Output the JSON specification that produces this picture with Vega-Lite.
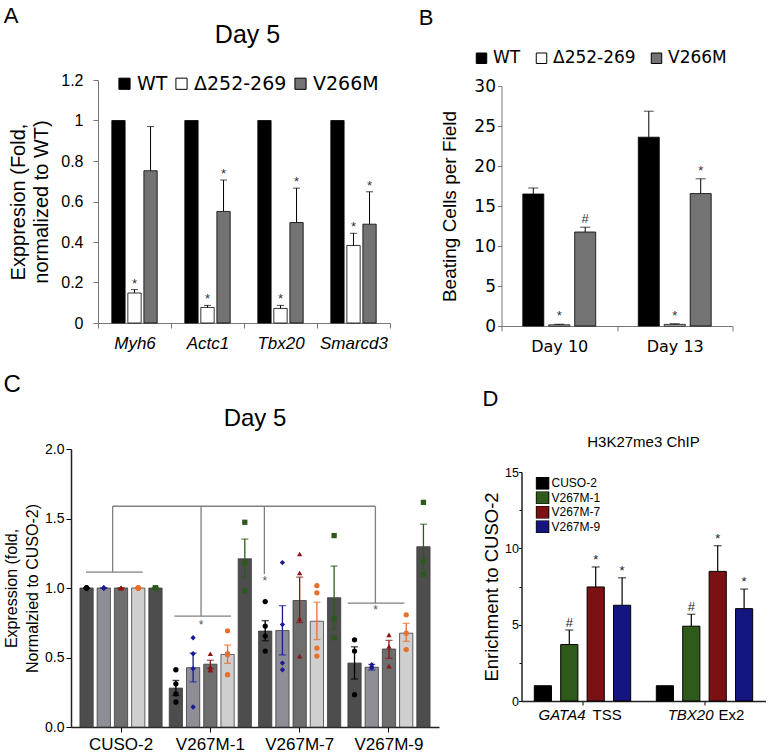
{
  "$schema": "https://vega.github.io/schema/vega-lite/v6.json",
  "background": "white",
  "padding": {"left": 3, "top": 5, "right": 0, "bottom": 0},
  "config": {
    "font": "Liberation Sans",
    "view": {"stroke": null},
    "axis": {"grid": false, "domainColor": "black", "tickColor": "black", "labelColor": "black", "titleColor": "black", "titleFontWeight": "normal", "labelFont": "Liberation Sans", "titleFont": "Liberation Sans"},
    "title": {"fontWeight": "normal", "color": "black", "font": "Liberation Sans"},
    "legend": {"labelColor": "black", "labelLimit": 300, "padding": 0}
  },
  "datasets": {
    "A": [
      {"gene": "Myh6", "group": "WT", "value": 1, "upper": null, "sig": ""},
      {"gene": "Myh6", "group": "Δ252-269", "value": 0.148, "upper": 0.165, "sig": "*"},
      {"gene": "Myh6", "group": "V266M", "value": 0.752, "upper": 0.97, "sig": ""},
      {"gene": "Actc1", "group": "WT", "value": 1, "upper": null, "sig": ""},
      {"gene": "Actc1", "group": "Δ252-269", "value": 0.077, "upper": 0.087, "sig": "*"},
      {"gene": "Actc1", "group": "V266M", "value": 0.551, "upper": 0.706, "sig": "*"},
      {"gene": "Tbx20", "group": "WT", "value": 1, "upper": null, "sig": ""},
      {"gene": "Tbx20", "group": "Δ252-269", "value": 0.072, "upper": 0.087, "sig": "*"},
      {"gene": "Tbx20", "group": "V266M", "value": 0.496, "upper": 0.666, "sig": "*"},
      {"gene": "Smarcd3", "group": "WT", "value": 1, "upper": null, "sig": ""},
      {"gene": "Smarcd3", "group": "Δ252-269", "value": 0.383, "upper": 0.443, "sig": "*"},
      {"gene": "Smarcd3", "group": "V266M", "value": 0.488, "upper": 0.648, "sig": "*"}
    ],
    "B": [
      {"day": "Day 10", "group": "WT", "value": 16.5, "upper": 17.25, "sig": ""},
      {"day": "Day 10", "group": "Δ252-269", "value": 0.15, "upper": 0.22, "sig": "*"},
      {"day": "Day 10", "group": "V266M", "value": 11.75, "upper": 12.35, "sig": "#"},
      {"day": "Day 13", "group": "WT", "value": 23.6, "upper": 26.85, "sig": ""},
      {"day": "Day 13", "group": "Δ252-269", "value": 0.2, "upper": 0.28, "sig": "*"},
      {"day": "Day 13", "group": "V266M", "value": 16.55, "upper": 18.4, "sig": "*"}
    ],
    "cBars": [
      {"clone": "CUSO-2", "gene": "GATA4", "mean": 1, "lo": 1, "hi": 1},
      {"clone": "CUSO-2", "gene": "TBX20", "mean": 1, "lo": 1, "hi": 1},
      {"clone": "CUSO-2", "gene": "HAND1", "mean": 1, "lo": 1, "hi": 1},
      {"clone": "CUSO-2", "gene": "ISL1", "mean": 1, "lo": 1, "hi": 1},
      {"clone": "CUSO-2", "gene": "MEF2C", "mean": 1, "lo": 1, "hi": 1},
      {"clone": "V267M-1", "gene": "GATA4", "mean": 0.28, "lo": 0.226, "hi": 0.335},
      {"clone": "V267M-1", "gene": "TBX20", "mean": 0.427, "lo": 0.325, "hi": 0.532},
      {"clone": "V267M-1", "gene": "HAND1", "mean": 0.452, "lo": 0.422, "hi": 0.48},
      {"clone": "V267M-1", "gene": "ISL1", "mean": 0.522, "lo": 0.458, "hi": 0.59},
      {"clone": "V267M-1", "gene": "MEF2C", "mean": 1.21, "lo": 1.075, "hi": 1.352},
      {"clone": "V267M-7", "gene": "GATA4", "mean": 0.69, "lo": 0.62, "hi": 0.765},
      {"clone": "V267M-7", "gene": "TBX20", "mean": 0.694, "lo": 0.519, "hi": 0.873},
      {"clone": "V267M-7", "gene": "HAND1", "mean": 0.91, "lo": 0.752, "hi": 1.078},
      {"clone": "V267M-7", "gene": "ISL1", "mean": 0.761, "lo": 0.629, "hi": 0.898},
      {"clone": "V267M-7", "gene": "MEF2C", "mean": 0.93, "lo": 0.706, "hi": 1.158},
      {"clone": "V267M-9", "gene": "GATA4", "mean": 0.46, "lo": 0.345, "hi": 0.577},
      {"clone": "V267M-9", "gene": "TBX20", "mean": 0.43, "lo": 0.41, "hi": 0.45},
      {"clone": "V267M-9", "gene": "HAND1", "mean": 0.561, "lo": 0.494, "hi": 0.623},
      {"clone": "V267M-9", "gene": "ISL1", "mean": 0.675, "lo": 0.616, "hi": 0.746},
      {"clone": "V267M-9", "gene": "MEF2C", "mean": 1.297, "lo": 1.136, "hi": 1.459}
    ],
    "cPoints": [
      {"clone": "CUSO-2", "gene": "GATA4", "value": 1}, {"clone": "CUSO-2", "gene": "GATA4", "value": 1}, {"clone": "CUSO-2", "gene": "GATA4", "value": 1}, {"clone": "CUSO-2", "gene": "GATA4", "value": 1},
      {"clone": "CUSO-2", "gene": "TBX20", "value": 1}, {"clone": "CUSO-2", "gene": "TBX20", "value": 1}, {"clone": "CUSO-2", "gene": "TBX20", "value": 1}, {"clone": "CUSO-2", "gene": "TBX20", "value": 1},
      {"clone": "CUSO-2", "gene": "HAND1", "value": 1}, {"clone": "CUSO-2", "gene": "HAND1", "value": 1}, {"clone": "CUSO-2", "gene": "HAND1", "value": 1}, {"clone": "CUSO-2", "gene": "HAND1", "value": 1},
      {"clone": "CUSO-2", "gene": "ISL1", "value": 1}, {"clone": "CUSO-2", "gene": "ISL1", "value": 1}, {"clone": "CUSO-2", "gene": "ISL1", "value": 1}, {"clone": "CUSO-2", "gene": "ISL1", "value": 1},
      {"clone": "CUSO-2", "gene": "MEF2C", "value": 1}, {"clone": "CUSO-2", "gene": "MEF2C", "value": 1}, {"clone": "CUSO-2", "gene": "MEF2C", "value": 1},
      {"clone": "V267M-1", "gene": "GATA4", "value": 0.412}, {"clone": "V267M-1", "gene": "GATA4", "value": 0.311}, {"clone": "V267M-1", "gene": "GATA4", "value": 0.239}, {"clone": "V267M-1", "gene": "GATA4", "value": 0.18},
      {"clone": "V267M-1", "gene": "TBX20", "value": 0.642}, {"clone": "V267M-1", "gene": "TBX20", "value": 0.527}, {"clone": "V267M-1", "gene": "TBX20", "value": 0.419}, {"clone": "V267M-1", "gene": "TBX20", "value": 0.144},
      {"clone": "V267M-1", "gene": "HAND1", "value": 0.527}, {"clone": "V267M-1", "gene": "HAND1", "value": 0.431}, {"clone": "V267M-1", "gene": "HAND1", "value": 0.41}, {"clone": "V267M-1", "gene": "HAND1", "value": 0.41},
      {"clone": "V267M-1", "gene": "ISL1", "value": 0.692}, {"clone": "V267M-1", "gene": "ISL1", "value": 0.527}, {"clone": "V267M-1", "gene": "ISL1", "value": 0.52}, {"clone": "V267M-1", "gene": "ISL1", "value": 0.376},
      {"clone": "V267M-1", "gene": "MEF2C", "value": 1.473}, {"clone": "V267M-1", "gene": "MEF2C", "value": 1.18}, {"clone": "V267M-1", "gene": "MEF2C", "value": 0.979},
      {"clone": "V267M-7", "gene": "GATA4", "value": 0.902}, {"clone": "V267M-7", "gene": "GATA4", "value": 0.726}, {"clone": "V267M-7", "gene": "GATA4", "value": 0.654}, {"clone": "V267M-7", "gene": "GATA4", "value": 0.546},
      {"clone": "V267M-7", "gene": "TBX20", "value": 1.183}, {"clone": "V267M-7", "gene": "TBX20", "value": 0.737}, {"clone": "V267M-7", "gene": "TBX20", "value": 0.46}, {"clone": "V267M-7", "gene": "TBX20", "value": 0.412},
      {"clone": "V267M-7", "gene": "HAND1", "value": 1.245}, {"clone": "V267M-7", "gene": "HAND1", "value": 1.108}, {"clone": "V267M-7", "gene": "HAND1", "value": 0.778}, {"clone": "V267M-7", "gene": "HAND1", "value": 0.51},
      {"clone": "V267M-7", "gene": "ISL1", "value": 1.017}, {"clone": "V267M-7", "gene": "ISL1", "value": 0.965}, {"clone": "V267M-7", "gene": "ISL1", "value": 0.568}, {"clone": "V267M-7", "gene": "ISL1", "value": 0.51},
      {"clone": "V267M-7", "gene": "MEF2C", "value": 1.377}, {"clone": "V267M-7", "gene": "MEF2C", "value": 0.778}, {"clone": "V267M-7", "gene": "MEF2C", "value": 0.641},
      {"clone": "V267M-9", "gene": "GATA4", "value": 0.627}, {"clone": "V267M-9", "gene": "GATA4", "value": 0.546}, {"clone": "V267M-9", "gene": "GATA4", "value": 0.232},
      {"clone": "V267M-9", "gene": "TBX20", "value": 0.448}, {"clone": "V267M-9", "gene": "TBX20", "value": 0.431}, {"clone": "V267M-9", "gene": "TBX20", "value": 0.425},
      {"clone": "V267M-9", "gene": "HAND1", "value": 0.663}, {"clone": "V267M-9", "gene": "HAND1", "value": 0.579}, {"clone": "V267M-9", "gene": "HAND1", "value": 0.438},
      {"clone": "V267M-9", "gene": "ISL1", "value": 0.807}, {"clone": "V267M-9", "gene": "ISL1", "value": 0.675}, {"clone": "V267M-9", "gene": "ISL1", "value": 0.557},
      {"clone": "V267M-9", "gene": "MEF2C", "value": 1.616}, {"clone": "V267M-9", "gene": "MEF2C", "value": 1.19}, {"clone": "V267M-9", "gene": "MEF2C", "value": 1.099}
    ],
    "cBrackets": [
      {"x": -0.392, "x2": 0.242, "y": 1.114, "y2": 1.114},
      {"x": -0.094, "x2": -0.094, "y": 1.114, "y2": 1.588},
      {"x": -0.094, "x2": 2.848, "y": 1.588, "y2": 1.588},
      {"x": 0.896, "x2": 0.896, "y": 1.588, "y2": 0.797},
      {"x": 0.597, "x2": 1.232, "y": 0.797, "y2": 0.797},
      {"x": 1.605, "x2": 1.605, "y": 1.588, "y2": 1.1},
      {"x": 2.848, "x2": 2.848, "y": 1.588, "y2": 0.891},
      {"x": 2.538, "x2": 3.173, "y": 0.891, "y2": 0.891}
    ],
    "cStars": [
      {"x": 0.896, "y": 0.755, "label": "*"},
      {"x": 1.61, "y": 1.075, "label": "*"},
      {"x": 2.85, "y": 0.865, "label": "*"}
    ],
    "D": [
      {"site": "GATA4 TSS", "clone": "CUSO-2", "value": 1, "upper": null, "sig": ""},
      {"site": "GATA4 TSS", "clone": "V267M-1", "value": 3.7, "upper": 4.65, "sig": "#"},
      {"site": "GATA4 TSS", "clone": "V267M-7", "value": 7.47, "upper": 8.78, "sig": "*"},
      {"site": "GATA4 TSS", "clone": "V267M-9", "value": 6.27, "upper": 8.07, "sig": "*"},
      {"site": "TBX20 Ex2", "clone": "CUSO-2", "value": 1, "upper": null, "sig": ""},
      {"site": "TBX20 Ex2", "clone": "V267M-1", "value": 4.9, "upper": 5.68, "sig": "#"},
      {"site": "TBX20 Ex2", "clone": "V267M-7", "value": 8.49, "upper": 10.17, "sig": "*"},
      {"site": "TBX20 Ex2", "clone": "V267M-9", "value": 6.05, "upper": 7.33, "sig": "*"}
    ],
    "dLabels": [
      {"site": "GATA4 TSS", "gene": "GATA4", "suffix": "TSS"},
      {"site": "TBX20 Ex2", "gene": "TBX20", "suffix": "Ex2"}
    ]
  },
  "columns": 1,
  "align": "none",
  "spacing": 19,
  "resolve": {"scale": {"color": "independent", "xOffset": "independent", "fill": "independent", "shape": "independent"}, "legend": {"color": "independent", "fill": "independent", "shape": "independent"}},
  "concat": [
    {
      "columns": 2,
      "align": "none",
      "spacing": 27.5,
      "resolve": {"scale": {"color": "independent", "xOffset": "independent", "fill": "independent", "shape": "independent"}, "legend": {"color": "independent", "fill": "independent", "shape": "independent"}},
      "concat": [
        {
          "title": {"text": "A", "anchor": "start", "frame": "bounds", "fontSize": 22, "offset": -5, "dx": -5},
          "resolve": {"scale": {"color": "independent", "xOffset": "independent"}},
          "vconcat": [
            {
              "width": 319,
              "height": 243,
              "title": {"text": "Day 5", "fontSize": 25, "offset": 24, "anchor": "middle", "frame": "group", "dx": 17},
              "data": {"name": "A"},
              "encoding": {
                "x": {"field": "gene", "type": "nominal", "sort": ["Myh6", "Actc1", "Tbx20", "Smarcd3"], "scale": {"range": [27, 319], "paddingInner": 0, "paddingOuter": 0},
                  "axis": {"title": null, "labelAngle": 0, "labelFontSize": 17, "labelFontStyle": "italic", "labelPadding": 7, "tickBand": "extent", "tickSize": 5, "domainColor": "#777777", "tickColor": "#777777"}},
                "xOffset": {"field": "group", "type": "nominal", "sort": ["WT", "Δ252-269", "V266M"], "scale": {"paddingInner": 0.17, "paddingOuter": 0.86}}
              },
              "layer": [
                {
                  "mark": {"type": "bar", "stroke": "black", "strokeWidth": 0.8},
                  "encoding": {
                    "y": {"field": "value", "type": "quantitative", "scale": {"domain": [0, 1.2], "nice": false},
                      "axis": {"offset": -27, "values": [0, 0.2, 0.4, 0.6, 0.8, 1, 1.2], "format": "~g", "title": ["Exppresion  (Fold,", "normalized to WT)"], "titleFontSize": 20, "titleLineHeight": 23, "labelFontSize": 16, "tickSize": 5, "labelPadding": 10, "titlePadding": 9, "domainColor": "#777777", "tickColor": "#777777"}},
                    "color": {"field": "group", "type": "nominal", "scale": {"domain": ["WT", "Δ252-269", "V266M"], "range": ["black", "white", "#737373"]},
                      "legend": {"title": null, "orient": "none", "legendX": 44, "legendY": -6, "direction": "horizontal", "columns": 3, "symbolType": "square", "symbolSize": 125, "symbolStrokeColor": "black", "symbolStrokeWidth": 1, "labelFontSize": 19, "labelFont": "DejaVu Sans", "columnPadding": 4, "labelOffset": 3}}
                  }
                },
                {
                  "transform": [{"filter": "datum.upper != null"}],
                  "mark": {"type": "rule", "color": "black", "strokeWidth": 1},
                  "encoding": {"y": {"field": "value", "type": "quantitative"}, "y2": {"field": "upper"}}
                },
                {
                  "transform": [{"filter": "datum.upper != null"}],
                  "mark": {"type": "tick", "color": "black", "thickness": 1, "size": 7},
                  "encoding": {"y": {"field": "upper", "type": "quantitative"}}
                },
                {
                  "transform": [{"filter": "datum.upper != null"}],
                  "mark": {"type": "text", "fontSize": 13, "baseline": "bottom", "dy": 1, "color": "#333333"},
                  "encoding": {"y": {"field": "upper", "type": "quantitative"}, "text": {"field": "sig"}}
                }
              ]
            }
          ]
        },
        {
          "title": {"text": "B", "anchor": "start", "frame": "bounds", "fontSize": 22, "offset": 19.5, "dx": -22},
          "resolve": {"scale": {"color": "independent", "xOffset": "independent"}},
          "vconcat": [
            {
              "width": 231,
              "height": 246,
              "data": {"name": "B"},
              "encoding": {
                "x": {"field": "day", "type": "nominal", "sort": ["Day 10", "Day 13"], "scale": {"paddingInner": 0, "paddingOuter": 0},
                  "axis": {"title": null, "labelAngle": 0, "labelFontSize": 16, "labelFont": "DejaVu Sans", "labelPadding": 7, "tickBand": "extent", "tickSize": 5, "domainColor": "#777777", "tickColor": "#777777"}},
                "xOffset": {"field": "group", "type": "nominal", "sort": ["WT", "Δ252-269", "V266M"], "scale": {"paddingInner": 0.19, "paddingOuter": 0.82}}
              },
              "layer": [
                {
                  "mark": {"type": "bar", "stroke": "black", "strokeWidth": 0.8},
                  "encoding": {
                    "y": {"field": "value", "type": "quantitative", "scale": {"domain": [0, 30], "nice": false, "range": [246, 6]},
                      "axis": {"values": [0, 5, 10, 15, 20, 25, 30], "title": "Beating Cells per Field", "titleFontSize": 19, "labelFontSize": 17, "labelFont": "DejaVu Sans", "tickSize": 4, "labelPadding": 2, "titlePadding": 14, "domainColor": "#777777", "tickColor": "#777777"}},
                    "color": {"field": "group", "type": "nominal", "scale": {"domain": ["WT", "Δ252-269", "V266M"], "range": ["black", "white", "#737373"]},
                      "legend": {"title": null, "orient": "none", "legendX": -28.5, "legendY": -30.5, "direction": "horizontal", "columns": 3, "symbolType": "square", "symbolSize": 110, "symbolStrokeColor": "black", "symbolStrokeWidth": 1, "labelFontSize": 17, "labelFont": "DejaVu Sans", "columnPadding": 12, "labelOffset": 3}}
                  }
                },
                {
                  "transform": [{"filter": "datum.upper != null"}],
                  "mark": {"type": "rule", "color": "black", "strokeWidth": 1},
                  "encoding": {"y": {"field": "value", "type": "quantitative"}, "y2": {"field": "upper"}}
                },
                {
                  "transform": [{"filter": "datum.upper != null"}],
                  "mark": {"type": "tick", "color": "black", "thickness": 1, "size": 10},
                  "encoding": {"y": {"field": "upper", "type": "quantitative"}}
                },
                {
                  "transform": [{"filter": "datum.upper != null"}],
                  "mark": {"type": "text", "fontSize": 13, "baseline": "bottom", "dy": -1, "color": "#333333"},
                  "encoding": {"y": {"field": "upper", "type": "quantitative"}, "text": {"field": "sig"}}
                }
              ]
            }
          ]
        }
      ]
    },
    {
      "columns": 2,
      "align": "none",
      "spacing": 43.5,
      "resolve": {"scale": {"color": "independent", "xOffset": "independent", "fill": "independent", "shape": "independent"}, "legend": {"color": "independent", "fill": "independent", "shape": "independent"}},
      "concat": [
        {
          "title": {"text": "C", "anchor": "start", "frame": "bounds", "fontSize": 24, "offset": 10, "dx": 0},
          "resolve": {"scale": {"color": "independent", "xOffset": "independent", "fill": "independent", "shape": "independent"}},
          "vconcat": [
            {
              "width": 368,
              "height": 278,
              "title": {"text": "Day 5", "fontSize": 24, "offset": 11, "anchor": "middle", "frame": "group"},
              "layer": [
                {
                  "encoding": {
                    "x": {"field": "clone", "type": "nominal", "sort": ["CUSO-2", "V267M-1", "V267M-7", "V267M-9"], "scale": {"paddingInner": 0.08, "paddingOuter": 0.1},
                      "axis": {"title": null, "labelAngle": 0, "labelFontSize": 17, "labelPadding": 4, "tickSize": 5, "domainWidth": 1.5, "domainColor": "#222222"}},
                    "xOffset": {"field": "gene", "type": "nominal", "sort": ["GATA4", "TBX20", "HAND1", "ISL1", "MEF2C"], "scale": {"paddingInner": 0.23, "paddingOuter": 0}}
                  },
                  "layer": [
                    {
                      "data": {"name": "cBars"},
                      "mark": {"type": "bar", "stroke": "#3c3c3c", "strokeWidth": 0.8},
                      "encoding": {
                        "y": {"field": "mean", "type": "quantitative", "scale": {"domain": [0, 2], "nice": false},
                          "axis": {"values": [0, 0.25, 0.5, 0.75, 1, 1.25, 1.5, 1.75, 2], "labelExpr": "datum.value % 0.5 == 0 ? format(datum.value, '.1f') : ''", "tickSize": {"condition": {"test": "datum.value % 0.5 == 0", "value": 5}, "value": 3}, "title": ["Expression (fold,", "Normalzied to  CUSO-2)"], "titleFontSize": 16, "titleLineHeight": 21, "labelFontSize": 14, "labelPadding": 2, "titlePadding": 4, "domainWidth": 1.5, "domainColor": "#222222"}},
                        "fill": {"field": "gene", "type": "nominal", "scale": {"domain": ["GATA4", "TBX20", "HAND1", "ISL1", "MEF2C"], "range": ["#4d4d4d", "#8e8e96", "#6e6e6e", "#cfcfcf", "#4d4d4d"]}, "legend": null}
                      }
                    },
                    {
                      "data": {"name": "cBars"},
                      "mark": {"type": "rule", "strokeWidth": 1.3},
                      "encoding": {
                        "y": {"field": "lo", "type": "quantitative"}, "y2": {"field": "hi"},
                        "color": {"field": "gene", "type": "nominal", "scale": {"domain": ["GATA4", "TBX20", "HAND1", "ISL1", "MEF2C"], "range": ["black", "#1b1b8f", "#8b1414", "#e8702a", "#2c5a1c"]}, "legend": null}
                      }
                    },
                    {
                      "data": {"name": "cBars"},
                      "mark": {"type": "tick", "thickness": 1.3, "size": 7},
                      "encoding": {
                        "y": {"field": "hi", "type": "quantitative"},
                        "color": {"field": "gene", "type": "nominal", "legend": null}
                      }
                    },
                    {
                      "data": {"name": "cBars"},
                      "mark": {"type": "tick", "thickness": 1.3, "size": 7},
                      "encoding": {
                        "y": {"field": "lo", "type": "quantitative"},
                        "color": {"field": "gene", "type": "nominal", "legend": null}
                      }
                    },
                    {
                      "data": {"name": "cPoints"},
                      "mark": {"type": "point", "filled": true, "size": 28, "opacity": 1},
                      "encoding": {
                        "y": {"field": "value", "type": "quantitative"},
                        "color": {"field": "gene", "type": "nominal",
                          "legend": {"title": null, "orient": "none", "legendX": 301, "legendY": -38, "labelFontSize": 13, "labelFontStyle": "italic", "symbolSize": 30, "rowPadding": 1.5, "labelOffset": 8}},
                        "shape": {"field": "gene", "type": "nominal", "scale": {"domain": ["GATA4", "TBX20", "HAND1", "ISL1", "MEF2C"], "range": ["circle", "diamond", "triangle-up", "circle", "square"]},
                          "legend": {"title": null, "orient": "none", "legendX": 301, "legendY": -38, "labelFontSize": 13, "labelFontStyle": "italic", "symbolSize": 30, "rowPadding": 1.5, "labelOffset": 8}}
                      }
                    }
                  ]
                },
                {
                  "layer": [
                    {
                      "data": {"name": "cBrackets"},
                      "mark": {"type": "rule", "color": "#808080", "strokeWidth": 1.3},
                      "encoding": {
                        "x": {"field": "x", "type": "quantitative", "scale": {"domain": [-0.56, 3.56], "nice": false, "zero": false}, "axis": null},
                        "x2": {"field": "x2"},
                        "y": {"field": "y", "type": "quantitative"},
                        "y2": {"field": "y2"}
                      }
                    },
                    {
                      "data": {"name": "cStars"},
                      "mark": {"type": "text", "fontSize": 12, "color": "#555555", "baseline": "middle", "dy": 3},
                      "encoding": {
                        "x": {"field": "x", "type": "quantitative"},
                        "y": {"field": "y", "type": "quantitative"},
                        "text": {"field": "label"}
                      }
                    }
                  ]
                }
              ],
              "resolve": {"scale": {"x": "independent"}}
            }
          ]
        },
        {
          "title": {"text": "D", "anchor": "start", "frame": "bounds", "fontSize": 22, "offset": 24.5, "dx": 0},
          "resolve": {"scale": {"color": "independent", "xOffset": "independent"}},
          "vconcat": [
            {
              "width": 244,
              "height": 252,
              "title": {"text": "H3K27me3 ChIP", "fontSize": 15, "offset": -1, "anchor": "middle", "frame": "group"},
              "encoding": {
                "x": {"field": "site", "type": "nominal", "sort": ["GATA4 TSS", "TBX20 Ex2"], "scale": {"paddingInner": 0, "paddingOuter": 0},
                  "axis": {"title": null, "labels": false, "tickSize": 4, "domainWidth": 1.5, "domainColor": "#222222"}}
              },
              "layer": [
                {
                  "data": {"name": "D"},
                  "mark": {"type": "bar", "stroke": "black", "strokeWidth": 1},
                  "encoding": {
                    "xOffset": {"field": "clone", "type": "nominal", "sort": ["CUSO-2", "V267M-1", "V267M-7", "V267M-9"], "scale": {"paddingInner": 0.35, "paddingOuter": 0.485}},
                    "y": {"field": "value", "type": "quantitative", "scale": {"domain": [0, 15], "nice": false, "range": [252, 23]},
                      "axis": {"values": [0, 2.5, 5, 7.5, 10, 12.5, 15], "format": "~g", "labelExpr": "datum.value % 5 == 0 ? datum.label : ''", "tickSize": {"condition": {"test": "datum.value % 5 == 0", "value": 3}, "value": 2.5}, "title": "Enrichment to CUSO-2", "titleFontSize": 18.5, "labelFontSize": 12.5, "labelPadding": 0, "titlePadding": 3, "domainWidth": 1.5, "domainColor": "#222222"}},
                    "color": {"field": "clone", "type": "nominal", "scale": {"domain": ["CUSO-2", "V267M-1", "V267M-7", "V267M-9"], "range": ["black", "#2e5a1c", "#7b1113", "#15157f"]},
                      "legend": {"title": null, "orient": "none", "legendX": 14, "legendY": 28, "symbolType": "square", "symbolSize": 160, "symbolStrokeColor": "black", "symbolStrokeWidth": 1, "labelFontSize": 12, "clipHeight": 12.5, "rowPadding": 1.5, "labelOffset": 2}}
                  }
                },
                {
                  "data": {"name": "D"},
                  "transform": [{"filter": "datum.upper != null"}],
                  "mark": {"type": "rule", "color": "black", "strokeWidth": 1.2},
                  "encoding": {
                    "xOffset": {"field": "clone", "type": "nominal", "sort": ["CUSO-2", "V267M-1", "V267M-7", "V267M-9"]},
                    "y": {"field": "value", "type": "quantitative"}, "y2": {"field": "upper"}
                  }
                },
                {
                  "data": {"name": "D"},
                  "transform": [{"filter": "datum.upper != null"}],
                  "mark": {"type": "tick", "color": "black", "thickness": 1.2, "size": 8},
                  "encoding": {
                    "xOffset": {"field": "clone", "type": "nominal", "sort": ["CUSO-2", "V267M-1", "V267M-7", "V267M-9"]},
                    "y": {"field": "upper", "type": "quantitative"}
                  }
                },
                {
                  "data": {"name": "D"},
                  "transform": [{"filter": "datum.upper != null"}],
                  "mark": {"type": "text", "fontSize": 13, "baseline": "bottom", "dy": 0, "color": "#222222"},
                  "encoding": {
                    "xOffset": {"field": "clone", "type": "nominal", "sort": ["CUSO-2", "V267M-1", "V267M-7", "V267M-9"]},
                    "y": {"field": "upper", "type": "quantitative"},
                    "text": {"field": "sig"}
                  }
                },
                {
                  "data": {"name": "dLabels"},
                  "transform": [{"filter": "datum.gene == 'GATA4'"}],
                  "mark": {"type": "text", "fontSize": 15, "fontStyle": "italic", "align": "right", "baseline": "middle", "dx": 3, "dy": 14},
                  "encoding": {"y": {"datum": 0}, "text": {"field": "gene"}}
                },
                {
                  "data": {"name": "dLabels"},
                  "transform": [{"filter": "datum.gene == 'GATA4'"}],
                  "mark": {"type": "text", "fontSize": 15, "align": "left", "baseline": "middle", "dx": 10, "dy": 14},
                  "encoding": {"y": {"datum": 0}, "text": {"field": "suffix"}}
                },
                {
                  "data": {"name": "dLabels"},
                  "transform": [{"filter": "datum.gene == 'TBX20'"}],
                  "mark": {"type": "text", "fontSize": 15, "fontStyle": "italic", "align": "right", "baseline": "middle", "dx": 9, "dy": 14},
                  "encoding": {"y": {"datum": 0}, "text": {"field": "gene"}}
                },
                {
                  "data": {"name": "dLabels"},
                  "transform": [{"filter": "datum.gene == 'TBX20'"}],
                  "mark": {"type": "text", "fontSize": 15, "align": "left", "baseline": "middle", "dx": 14, "dy": 14},
                  "encoding": {"y": {"datum": 0}, "text": {"field": "suffix"}}
                }
              ]
            }
          ]
        }
      ]
    }
  ]
}
